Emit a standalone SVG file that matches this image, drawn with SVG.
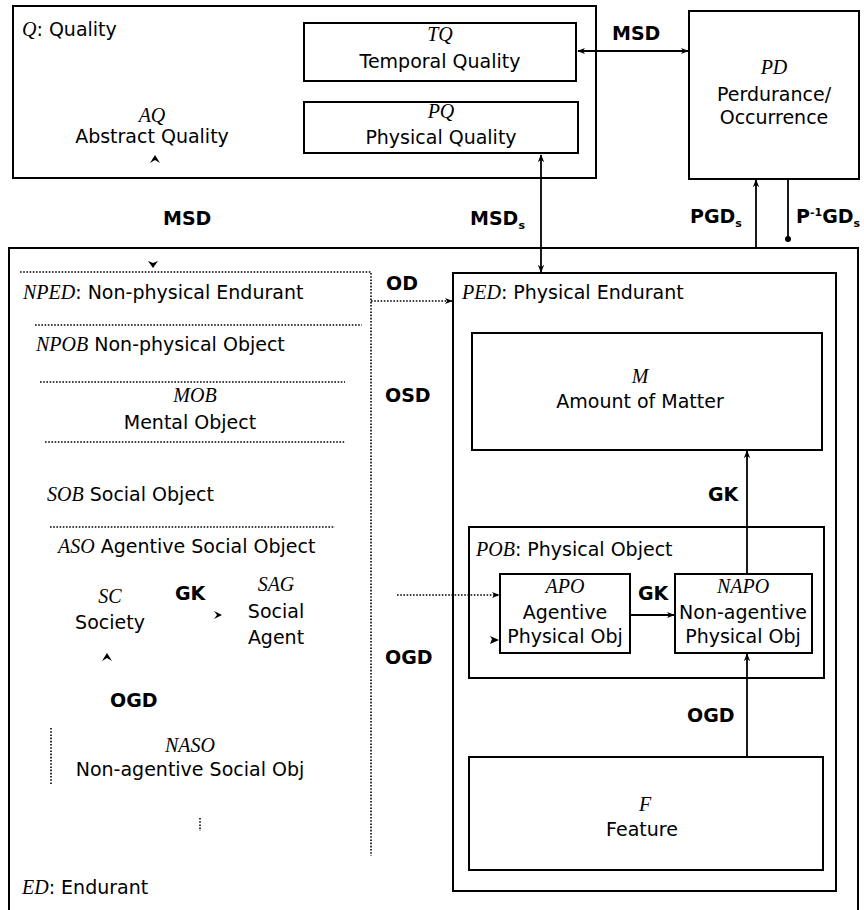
<svg xmlns="http://www.w3.org/2000/svg" width="864" height="910" viewBox="0 0 864 910">
<style>
.box{fill:none;stroke:#000;stroke-width:2}
.t{font-family:"DejaVu Sans",sans-serif;font-size:19px;fill:#000}
.c{text-anchor:middle}
.i{font-family:"Liberation Serif",serif;font-style:italic;font-size:20px;fill:#000}
.b{font-family:"DejaVu Sans",sans-serif;font-weight:bold;font-size:19px;fill:#000}
.ln{fill:none;stroke:#000;stroke-width:1.8}
.dot{fill:none;stroke:#000;stroke-width:1.6;stroke-dasharray:1.6 1.6}
.ah{fill:#000}
</style>
<defs>
<marker id="arr" viewBox="0 0 10 10" refX="9" refY="5" markerWidth="8" markerHeight="8" orient="auto-start-reverse" markerUnits="userSpaceOnUse">
<path d="M0,1 L10,5 L0,9 L3,5 z" fill="#000"/>
</marker>
<marker id="dotm" viewBox="0 0 10 10" refX="5" refY="5" markerWidth="6" markerHeight="6" markerUnits="userSpaceOnUse">
<circle cx="5" cy="5" r="5" fill="#000"/>
</marker>
</defs>
<rect width="864" height="910" fill="#fff"/>

<g id="Q">
<rect class="box" x="13" y="6" width="583" height="172"/>
<text x="22" y="36" class="t"><tspan class="i">Q</tspan>: Quality</text>
</g>
<g id="AQ">
<text x="152" y="122" class="i c">AQ</text>
<text x="152" y="143" class="t c">Abstract Quality</text>
</g>
<g id="TQ">
<rect class="box" x="304" y="23" width="272" height="58"/>
<text x="440" y="41" class="i c">TQ</text>
<text x="440" y="68" class="t c">Temporal Quality</text>
</g>
<g id="PQ">
<rect class="box" x="304" y="102" width="274" height="51"/>
<text x="441" y="118" class="i c">PQ</text>
<text x="441" y="144" class="t c">Physical Quality</text>
</g>
<g id="PD">
<rect class="box" x="689" y="11" width="170" height="168"/>
<text x="774" y="74" class="i c">PD</text>
<text x="774" y="101" class="t c">Perdurance/</text>
<text x="774" y="124" class="t c">Occurrence</text>
</g>

<g id="ED">
<rect class="box" x="9" y="248" width="849" height="680"/>
<text x="22" y="894" class="t"><tspan class="i">ED</tspan>: Endurant</text>
</g>
<g id="NPED">
<path class="dot" d="M20,272 H371 V856"/>
<text x="23" y="299" class="t"><tspan class="i">NPED</tspan>: Non-physical Endurant</text>
</g>
<g id="NPOB">
<path class="dot" d="M35,325 H362"/>
<text x="36" y="351" class="t"><tspan class="i">NPOB</tspan> Non-physical Object</text>
</g>
<g id="MOB">
<path class="dot" d="M40,382 H345"/>
<text x="195" y="402" class="i c">MOB</text>
<text x="190" y="429" class="t c">Mental Object</text>
<path class="dot" d="M45,442 H345"/>
</g>
<g id="SOB">
<text x="47" y="501" class="t"><tspan class="i">SOB</tspan> Social Object</text>
<path class="dot" d="M50,527 H335"/>
</g>
<g id="ASO">
<text x="58" y="553" class="t"><tspan class="i">ASO</tspan> Agentive Social Object</text>
</g>
<g id="SC">
<text x="110" y="603" class="i c">SC</text>
<text x="110" y="629" class="t c">Society</text>
</g>
<g id="SAG">
<text x="276" y="591" class="i c">SAG</text>
<text x="276" y="618" class="t c">Social</text>
<text x="276" y="644" class="t c">Agent</text>
</g>
<g id="NASO">
<path class="dot" d="M51,728 V785"/>
<text x="190" y="752" class="i c">NASO</text>
<text x="190" y="776" class="t c">Non-agentive Social Obj</text>
<path class="dot" d="M200,818 V831"/>
</g>

<g id="PED">
<rect class="box" x="453" y="273" width="383" height="618"/>
<text x="462" y="299" class="t"><tspan class="i">PED</tspan>: Physical Endurant</text>
</g>
<g id="M">
<rect class="box" x="472" y="333" width="350" height="117"/>
<text x="640" y="383" class="i c">M</text>
<text x="640" y="408" class="t c">Amount of Matter</text>
</g>
<g id="POB">
<rect class="box" x="469" y="527" width="355" height="151"/>
<text x="476" y="556" class="t"><tspan class="i">POB</tspan>: Physical Object</text>
</g>
<g id="APO">
<rect class="box" x="500" y="574" width="130" height="79"/>
<text x="565" y="593" class="i c">APO</text>
<text x="565" y="619" class="t c">Agentive</text>
<text x="565" y="643" class="t c">Physical Obj</text>
</g>
<g id="NAPO">
<rect class="box" x="675" y="574" width="137" height="79"/>
<text x="743" y="593" class="i c">NAPO</text>
<text x="743" y="619" class="t c">Non-agentive</text>
<text x="743" y="643" class="t c">Physical Obj</text>
</g>
<g id="F">
<rect class="box" x="469" y="757" width="354" height="113"/>
<text x="645" y="811" class="i c">F</text>
<text x="642" y="836" class="t c">Feature</text>
</g>

<g id="connectors">
<line class="ln" x1="578" y1="51" x2="688" y2="51" marker-start="url(#arr)" marker-end="url(#arr)"/>
<text x="612" y="40" class="b">MSD</text>
<line class="ln" x1="541" y1="155" x2="541" y2="272" marker-start="url(#arr)" marker-end="url(#arr)"/>
<text x="470" y="225" class="b">MSD<tspan font-size="11" dy="4">s</tspan></text>
<text x="163" y="225" class="b">MSD</text>
<line class="ln" x1="756" y1="248" x2="756" y2="180" marker-end="url(#arr)"/>
<text x="690" y="223" class="b">PGD<tspan font-size="11" dy="4">s</tspan></text>
<line class="ln" x1="788" y1="179" x2="788" y2="239" marker-end="url(#dotm)"/>
<text x="796" y="223" class="b">P<tspan font-size="11" dy="-7">-1</tspan><tspan dy="7">GD</tspan><tspan font-size="11" dy="4">s</tspan></text>
<line class="dot" x1="371" y1="301" x2="452" y2="301" marker-end="url(#arr)"/>
<text x="386" y="290" class="b">OD</text>
<text x="385" y="402" class="b">OSD</text>
<line class="dot" x1="397" y1="595" x2="499" y2="595" marker-end="url(#arr)"/>
<text x="385" y="664" class="b">OGD</text>
<line class="ln" x1="630" y1="615" x2="674" y2="615" marker-end="url(#arr)"/>
<text x="638" y="600" class="b">GK</text>
<line class="ln" x1="747" y1="574" x2="747" y2="451" marker-end="url(#arr)"/>
<text x="708" y="501" class="b">GK</text>
<line class="ln" x1="747" y1="757" x2="747" y2="654" marker-end="url(#arr)"/>
<text x="687" y="722" class="b">OGD</text>
<path class="ah" d="M499,640 L490,644 L492,639 L490,636 z"/>
<path class="ah" d="M155,155 L160,163 L155,160 L150,163 z"/>
<path class="ah" d="M153,268 L158,261 L153,263 L148,261 z"/>
<path class="ah" d="M222,615 L214,611 L217,615 L214,619 z"/>
<path class="ah" d="M107,653 L112,661 L107,658 L102,661 z"/>
<text x="175" y="600" class="b">GK</text>
<text x="110" y="707" class="b">OGD</text>
</g>
</svg>
